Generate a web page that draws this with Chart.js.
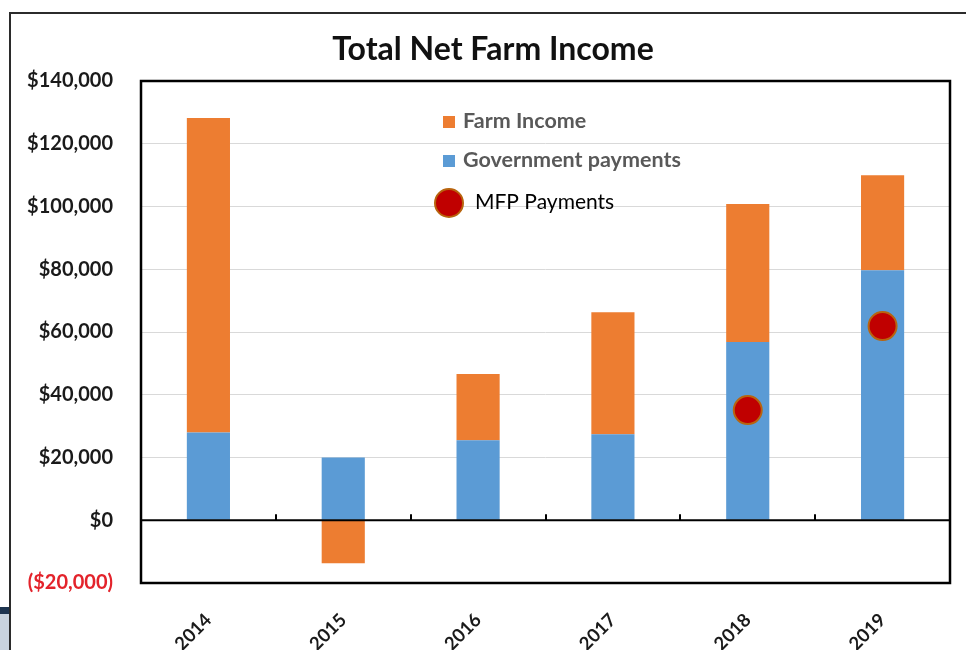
<!DOCTYPE html>
<html>
<head>
<meta charset="utf-8">
<script src="https://cdn.jsdelivr.net/npm/chart.js@4.4.1/dist/chart.umd.min.js"></script>
<style>
    html, body { margin: 0; padding: 0; background: #fff; overflow: hidden; }
    #frame {
        position: absolute; left: 9px; top: 12px; width: 1000px; height: 700px;
        border: 2px solid #2b2b2b; box-sizing: border-box;
    }
    #tab {
        position: absolute; left: 0; top: 607px; width: 9px; height: 43px;
        background: linear-gradient(#1f3550 0, #1f3550 7px, #c9d3de 7px);
    }
    #farmChart { position: absolute; left: 0; top: 0; }
</style>
</head>
<body>
<div id="frame"></div>
<div id="tab"></div>
<canvas id="farmChart" width="966" height="650"></canvas>
<script>
const years = ['2014', '2015', '2016', '2017', '2018', '2019'];
const governmentPayments = [28000, 20000, 25500, 27400, 56800, 79700];
const farmIncome = [100200, -13700, 21100, 38900, 44000, 30300];
const mfpPayments = [null, null, null, null, 35100, 61900];
const yTicks = [-20000, 0, 20000, 40000, 60000, 80000, 100000, 120000, 140000];

const FONT = 'Lato, "Open Sans", sans-serif';
const ORANGE = '#ED7D31';
const BLUE = '#5B9BD5';
const MFP_RED = '#C00000';
const MFP_EDGE = '#B8640E';

function money(v) {
    const s = '$' + Math.abs(v).toLocaleString('en-US');
    return v < 0 ? '(' + s + ')' : s;
}

// frame, zero line, tick marks, title and legend drawn over the chart
const chartDecor = {
    id: 'chartDecor',
    afterDatasetsDraw(chart) {
        const { ctx, chartArea: a, scales: { x, y } } = chart;
        const y0 = y.getPixelForValue(0);
        ctx.save();
        ctx.strokeStyle = '#000';
        ctx.lineWidth = 2;
        ctx.beginPath();
        ctx.moveTo(a.left, y0);
        ctx.lineTo(a.right, y0);
        for (let i = 0; i < years.length - 1; i++) {
            const bx = Math.round((x.getPixelForValue(i) + x.getPixelForValue(i + 1)) / 2);
            ctx.moveTo(bx, y0);
            ctx.lineTo(bx, y0 - 6);
        }
        ctx.stroke();
        ctx.lineWidth = 2.5;
        ctx.strokeRect(a.left, a.top, a.right - a.left, a.bottom - a.top);
        ctx.restore();
    },
    afterDraw(chart) {
        const ctx = chart.ctx;
        ctx.save();
        ctx.fillStyle = '#111';
        ctx.font = 'bold 32px ' + FONT;
        ctx.textAlign = 'center';
        ctx.textBaseline = 'middle';
        ctx.fillText('Total Net Farm Income', 493, 50);

        // legend
        ctx.textAlign = 'left';
        ctx.font = 'bold 21.5px ' + FONT;
        ctx.fillStyle = ORANGE;
        ctx.fillRect(443, 116, 12, 12);
        ctx.fillStyle = BLUE;
        ctx.fillRect(443, 155, 12, 12);
        ctx.fillStyle = '#595959';
        ctx.fillText('Farm Income', 463, 121);
        ctx.fillText('Government payments', 463, 160);

        ctx.beginPath();
        ctx.arc(449, 203, 14, 0, Math.PI * 2);
        ctx.fillStyle = MFP_RED;
        ctx.fill();
        ctx.lineWidth = 2;
        ctx.strokeStyle = MFP_EDGE;
        ctx.stroke();
        ctx.fillStyle = '#000';
        ctx.font = '21px ' + FONT;
        ctx.fillText('MFP Payments', 475, 202);
        ctx.restore();
    }
};

new Chart(document.getElementById('farmChart'), {
    type: 'bar',
    data: {
        labels: years,
        datasets: [{
            type: 'line',
            label: 'MFP Payments',
            data: mfpPayments,
            showLine: false,
            stack: 'mfp',
            pointRadius: 14,
            pointBackgroundColor: MFP_RED,
            pointBorderColor: MFP_EDGE,
            pointBorderWidth: 2,
            order: 0
        }, {
            label: 'Government payments',
            data: governmentPayments,
            backgroundColor: BLUE,
            stack: 'net',
            barPercentage: 0.32,
            categoryPercentage: 1,
            order: 1
        }, {
            label: 'Farm Income',
            data: farmIncome,
            backgroundColor: ORANGE,
            stack: 'net',
            barPercentage: 0.32,
            categoryPercentage: 1,
            order: 1
        }]
    },
    options: {
        responsive: false,
        animation: false,
        layout: { padding: { top: 81, right: 10, left: 0, bottom: 0 } },
        plugins: {
            legend: { display: false },
            title: { display: false },
            tooltip: { enabled: false }
        },
        scales: {
            x: {
                stacked: true,
                grid: { display: false },
                border: { display: false },
                ticks: {
                    maxRotation: 45,
                    minRotation: 45,
                    padding: 18,
                    color: '#1a1a1a',
                    font: { family: FONT, size: 18.5, weight: 'bold' }
                },
                afterFit(scale) {
                    scale.height = 67;
                    scale.paddingLeft = 0;
                    scale.paddingRight = 0;
                }
            },
            y: {
                stacked: true,
                min: -20000,
                max: 140000,
                afterBuildTicks(scale) { scale.ticks = yTicks.map(v => ({ value: v })); },
                grid: {
                    drawTicks: false,
                    color: c => (c.tick && c.tick.value === 0) ? 'rgba(0,0,0,0)' : '#d9d9d9',
                    lineWidth: 1
                },
                border: { display: false },
                ticks: {
                    padding: 28,
                    callback: v => money(v),
                    color: c => c.tick.value < 0 ? '#E3232B' : '#1a1a1a',
                    font: { family: FONT, size: 20, weight: 'bold' }
                },
                afterFit(scale) { scale.width = 141; }
            }
        }
    },
    plugins: [chartDecor]
});
</script>
</body>
</html>
